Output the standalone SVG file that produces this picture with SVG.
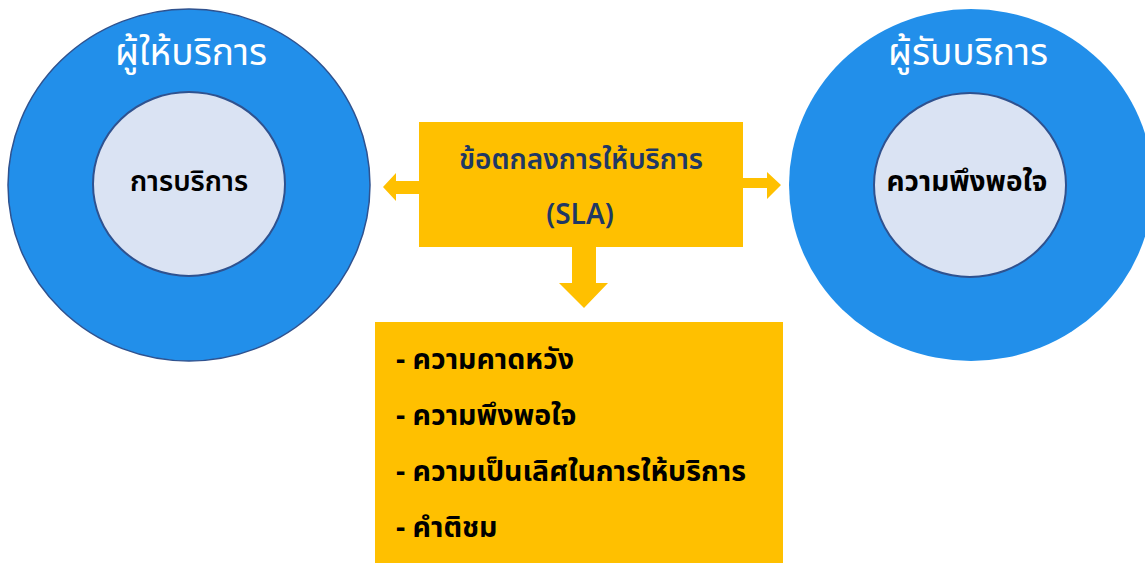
<svg xmlns="http://www.w3.org/2000/svg" width="1145" height="563" viewBox="0 0 1145 563">
<style>
.outer{fill:#228FEA;}
.inner{fill:#DAE3F3;stroke:#2F528F;stroke-width:2;}
.t{font-family:"Noto Sans Thai","Leelawadee UI","Tahoma","Noto Sans","DejaVu Sans",sans-serif;text-anchor:middle;}
.title{font-size:37px;fill:#FFFFFF;}
.lab{font-size:28px;fill:#000000;}
.sla{font-size:28px;fill:#1F3864;}
.item{font-family:"Noto Sans Thai","Leelawadee UI","Tahoma","Noto Sans","DejaVu Sans",sans-serif;font-size:28.5px;font-weight:bold;fill:#000000;}
.arrow{fill:#FFC000;}
</style>
<rect width="1145" height="563" fill="#FFFFFF"/>
<g id="provider">
<ellipse class="outer" cx="189" cy="185" rx="181" ry="176" stroke="#2F528F" stroke-width="1.5"/>
<text class="t title" x="191" y="65">ผู้ให้บริการ</text>
<ellipse class="inner" cx="189" cy="184" rx="96" ry="92"/>
<text class="t lab" x="189" y="191" font-weight="600">การบริการ</text>
</g>
<g id="receiver">
<ellipse class="outer" cx="971" cy="185" rx="182" ry="176"/>
<text class="t title" x="968" y="65">ผู้รับบริการ</text>
<ellipse class="inner" cx="970" cy="185" rx="96" ry="92"/>
<text class="t lab" x="967" y="191" font-weight="bold">ความพึงพอใจ</text>
</g>
<g id="connectors">
<polygon class="arrow" points="420,181 396,181 396,173 383,187 396,201 396,194 420,194"/>
<polygon class="arrow" points="742,178 767,178 767,172 781,185 767,199 767,188 742,188"/>
<polygon class="arrow" points="572,246 596,246 596,283 608,283 584,308 559,283 572,283"/>
</g>
<g id="sla">
<rect x="419" y="122" width="324" height="125" fill="#FFC000"/>
<text class="t sla" x="581" y="169" font-weight="600">ข้อตกลงการให้บริการ</text>
<text class="t sla" x="580" y="224" font-weight="600">(SLA)</text>
</g>
<g id="outcomes">
<rect x="375" y="322" width="408" height="241" fill="#FFC000"/>
<text class="item" x="396" y="369">- ความคาดหวัง</text>
<text class="item" x="396" y="425">- ความพึงพอใจ</text>
<text class="item" x="396" y="481">- ความเป็นเลิศในการให้บริการ</text>
<text class="item" x="396" y="537">- คำติชม</text>
</g>
</svg>
